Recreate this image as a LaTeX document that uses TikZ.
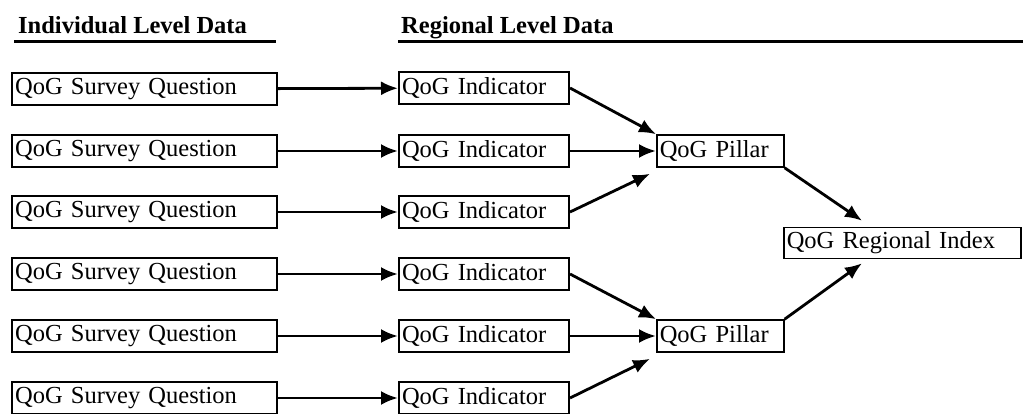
\documentclass[tikz,border=0pt]{standalone}
\usepackage{fontspec}
\setmainfont{Liberation Serif}
\usepackage{tikz}
\usetikzlibrary{positioning}
\usetikzlibrary{arrows.meta}

\tikzset{
	txt/.style={font=\fontsize{24.5}{28}\selectfont},
	heading/.style={font=\fontsize{24.5}{28}\selectfont\bfseries, anchor=base west, inner sep=0pt},
	question/.style={txt, draw, line width=2.2pt, anchor=west, minimum height=32pt, text width=259pt, inner xsep=3pt, align=left},
	indicator/.style={txt, draw, line width=2pt, anchor=west, minimum height=32pt, text width=164pt, inner xsep=3pt, align=left},
	pillar/.style={txt, draw, line width=1.6pt, anchor=west, minimum height=32pt, text width=121pt, inner xsep=3pt, align=left},
	index/.style={txt, draw, line width=1.6pt, anchor=west, minimum height=31pt, text width=231pt, inner xsep=3pt, align=left},
	conn/.style={->, line width=2.8pt}
}

\begin{document}
\begin{tikzpicture}[x=1pt, y=-1pt, >={Latex[length=17pt,width=14pt]}]
		\useasboundingbox (0,0) rectangle (1023,414);

		% Headings
		\node[heading] (indhead) at (18,34) {Individual Level Data};
		\node[heading] (reghead) at (401,34) {Regional Level Data};
		\draw[line width=3pt] (14,42) -- (276,42);
		\draw[line width=3pt] (398,42) -- (1023,42);

		% Survey questions (individual level)
		\node[question] (q1) at (11,89) {QoG Survey Question};
		\node[question] (q2) at (11,151) {QoG Survey Question};
		\node[question] (q3) at (11,212) {QoG Survey Question};
		\node[question] (q4) at (11,274) {QoG Survey Question};
		\node[question] (q5) at (11,336) {QoG Survey Question};
		\node[question] (q6) at (11,398) {QoG Survey Question};

		% Indicators (regional level)
		\node[indicator] (ind1) at (398,88) {QoG Indicator};
		\node[indicator] (ind2) at (398,151) {QoG Indicator};
		\node[indicator] (ind3) at (398,212) {QoG Indicator};
		\node[indicator] (ind4) at (398,274) {QoG Indicator};
		\node[indicator] (ind5) at (398,336) {QoG Indicator};
		\node[indicator] (ind6) at (398,398) {QoG Indicator};

		% Pillars
		\node[pillar] (pil1) at (656,151) {QoG Pillar};
		\node[pillar] (pil2) at (656,336) {QoG Pillar};

		% Regional index
		\node[index] (idx) at (783,243) {QoG Regional Index};
		\coordinate (idxin1) at ([xshift=79pt,yshift=6pt]idx.north west);
		\coordinate (idxin2) at ([xshift=79pt,yshift=-4pt]idx.south west);

		% Questions to indicators
		\draw[conn] (q1) -- (ind1);
		\draw[conn] (q2) -- (ind2);
		\draw[conn] (q3) -- (ind3);
		\draw[conn] (q4) -- (ind4);
		\draw[conn] (q5) -- (ind5);
		\draw[conn] (q6) -- (ind6);

		% Indicators to pillars
		\draw[conn] (ind1.east) -- (pil1.north west);
		\draw[conn] (ind2.east) -- (pil1.west);
		\draw[conn] (ind3.east) -- ([xshift=-6pt,yshift=-6pt]pil1.south west);
		\draw[conn] (ind4.east) -- (pil2.north west);
		\draw[conn] (ind5.east) -- (pil2.west);
		\draw[conn] (ind6.east) -- ([xshift=-6pt,yshift=-6pt]pil2.south west);

		% Pillars to index
		\draw[conn] (pil1.south east) -- (idxin1);
		\draw[conn] (pil2.north east) -- (idxin2);
	\end{tikzpicture}
\end{document}
